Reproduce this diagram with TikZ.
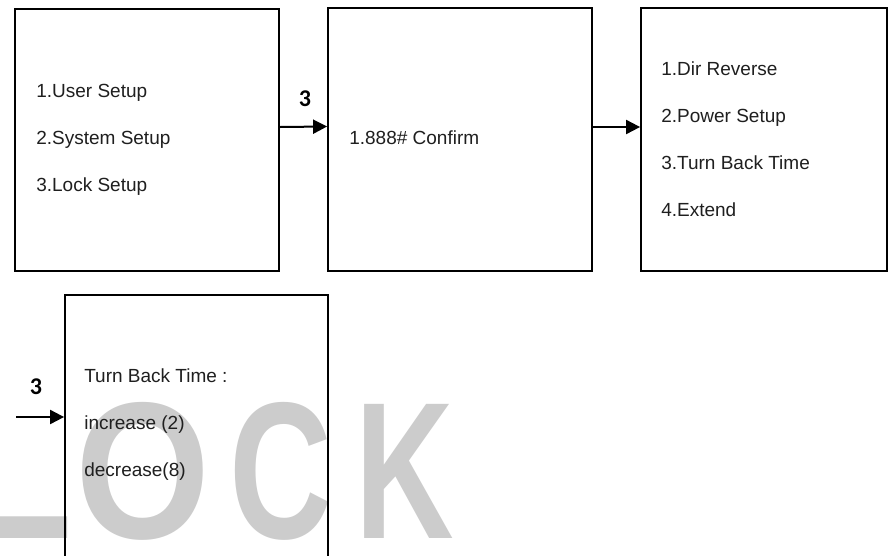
\documentclass[tikz,border=0pt]{standalone}
\usepackage{fontspec}
\setmainfont{Liberation Sans}
\newfontfamily\labelfont{Carlito}
\usetikzlibrary{arrows.meta}
\definecolor{wmgray}{HTML}{CCCCCC}
\tikzset{
  box/.style={draw=black, line width=1.8pt, rectangle, inner sep=0pt},
  menu/.style={anchor=west, align=left, inner sep=0pt, text=black!88,
    font=\fontsize{19}{47}\selectfont},
  arr/.style={line width=2pt, -{Triangle[length=14pt,width=14pt]}},
  steplabel/.style={inner sep=0pt, font=\labelfont\bfseries\fontsize{24}{24}\selectfont},
  wm/.style={inner sep=0pt, anchor=base west, text=wmgray,
    font=\bfseries\fontsize{195}{195}\selectfont}
}
\begin{document}
\begin{tikzpicture}[x=1pt,y=-1pt]
\useasboundingbox (0,0) rectangle (888,555);
\fill[white] (0,0) rectangle (888,555);
% watermark
\node[wm] (wmL) at (-46,538) {\scalebox{1.0}[1]{L}};
\node[wm] (wmO) at (75,538) {\scalebox{0.89}[1]{O}};
\node[wm] (wmC) at (229,538) {\scalebox{0.73}[1]{C}};
\node[wm] (wmK) at (355,538) {\scalebox{0.70}[1]{K}};
% boxes
\node[box, minimum width=264pt, minimum height=262pt] (b1) at (147,140) {};
\node[box, minimum width=264pt, minimum height=263pt] (b2) at (460,139.5) {};
\node[box, minimum width=246pt, minimum height=263pt] (b3) at (764,139.5) {};
\node[box, minimum width=263pt, minimum height=290pt] (b4) at (196.5,440) {};
% texts
\node[menu] (t1) at ([xshift=22pt]b1.west) {1.User Setup\\2.System Setup\\3.Lock Setup};
\node[menu] (t2) at ([xshift=22pt,yshift=2pt]b2.west) {1.888\# Confirm};
\node[menu] (t3) at ([xshift=21pt]b3.west) {1.Dir Reverse\\2.Power Setup\\3.Turn Back Time\\4.Extend};
\node[menu] (t4) at ([xshift=20pt,yshift=15pt]b4.west) {Turn Back Time :\\increase (2)\\decrease(8)};
% connectors
\coordinate (start4) at (16,417);
\draw[arr] ([yshift=13pt]b1.east) -- ([yshift=13pt]b2.west);
\draw[arr] ([yshift=12.5pt]b2.east) -- ([yshift=12.5pt]b3.west);
\draw[arr] (start4) -- (b4.west |- start4);
% labels
\node[steplabel] (l1) at (305,99) {3};
\node[steplabel] (l2) at (36,387) {3};
\end{tikzpicture}
\end{document}
